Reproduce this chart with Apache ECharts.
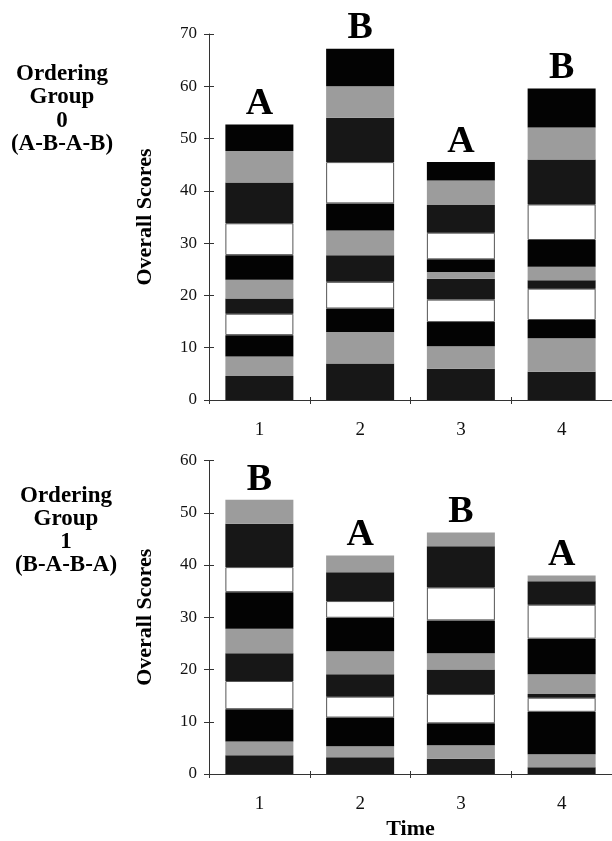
<!DOCTYPE html>
<html><head><meta charset="utf-8">
<script src="https://cdn.jsdelivr.net/npm/echarts@6/dist/echarts.min.js"></script>
<style>html,body{margin:0;padding:0;background:#fff}#c{width:612px;height:841px}</style>
</head><body><div id="c"></div>
<script>
// Categories
const times = ['1', '2', '3', '4'];
// Ordering Group 0 (A-B-A-B): stacked segment heights, bottom -> top
const group0_time1 = [4.6, 3.7, 4.1, 4.1, 2.9, 3.6, 4.7, 6.1, 7.8, 6.0, 5.1];
const group0_time2 = [7.0, 6.0, 4.5, 5.1, 5.1, 4.7, 5.2, 7.9, 8.5, 6.0, 7.2];
const group0_time3 = [6.0, 4.3, 4.6, 4.3, 4.0, 1.3, 2.4, 5.1, 5.3, 4.7, 3.5];
const group0_time4 = [5.4, 6.4, 3.5, 6.0, 1.6, 2.6, 5.1, 6.8, 8.6, 6.1, 7.5];
// Ordering Group 1 (B-A-B-A): stacked segment heights, bottom -> top
const group1_time1 = [3.6, 2.6, 6.2, 5.4, 5.3, 4.7, 7.0, 4.8, 8.3, 4.6];
const group1_time2 = [3.2, 2.1, 5.5, 4.0, 4.3, 4.4, 6.4, 3.2, 5.5, 3.2];
const group1_time3 = [2.9, 2.6, 4.2, 5.6, 4.7, 3.1, 6.3, 6.3, 7.9, 2.6];
const group1_time4 = [1.3, 2.5, 8.1, 2.7, 0.7, 3.8, 6.8, 6.5, 4.5, 1.1];
// Condition letters above bars
const group0_letters = ['A', 'B', 'A', 'B'];
const group1_letters = ['B', 'A', 'B', 'A'];
// Y axis ranges
const group0_yMax = 70;
const group1_yMax = 60;
const yStep = 10;

const SERIF = "'Liberation Serif','DejaVu Serif',serif";
const segStyles = [
  { color: '#171717' },                                   // dark stipple
  { color: '#9c9c9c' },                                   // light stipple
  { color: '#030303' },                                   // black
  { color: '#ffffff', borderColor: '#555', borderWidth: 1 } // white
];

function buildGroup(bars, letters, gi) {
  const n = bars[0].length;
  const out = [];
  for (let s = 0; s < n; s++) {
    out.push({
      type: 'bar', name: 'Group ' + gi + ' segment ' + (s + 1),
      xAxisIndex: gi * 2, yAxisIndex: gi * 2, stack: 'g' + gi,
      barWidth: 68, data: bars.map(b => b[s]),
      itemStyle: segStyles[s % 4], silent: true, animation: false
    });
  }
  const totals = bars.map(b => b.reduce((a, v) => a + v, 0));
  out.push({
    type: 'scatter', name: 'Group ' + gi + ' condition',
    xAxisIndex: gi * 2, yAxisIndex: gi * 2, symbolSize: 0,
    data: totals, animation: false, itemStyle: { opacity: 1, color: '#000' },
    label: { show: true, position: 'top', distance: 1,
      formatter: p => letters[p.dataIndex], textBorderWidth: 0, opacity: 1,
      fontSize: 38, fontWeight: 'bold', fontFamily: SERIF, color: '#000' }
  });
  return out;
}

function xAxes(gi, withName) {
  return [{
    type: 'category', gridIndex: gi, data: times, position: 'bottom',
    axisLine: { lineStyle: { color: '#333', width: 1 } },
    axisTick: { show: true, length: 4, lineStyle: { color: '#333' } },
    axisLabel: { fontSize: 19, fontFamily: SERIF, color: '#111', margin: 21 },
    name: withName ? 'Time' : '', nameLocation: 'middle', nameGap: 44,
    nameTextStyle: { fontSize: 22, fontWeight: 'bold', fontFamily: SERIF, color: '#000' }
  }, {
    type: 'category', gridIndex: gi, data: times, position: 'bottom',
    axisLine: { show: false }, axisLabel: { show: false },
    axisTick: { show: true, inside: true, length: 3, lineStyle: { color: '#333' } }
  }];
}
function yAxes(gi, max) {
  return [{
    type: 'value', gridIndex: gi, min: 0, max: max, interval: yStep, position: 'left',
    axisLine: { show: true, lineStyle: { color: '#333', width: 1 } },
    axisTick: { show: true, length: 5, lineStyle: { color: '#333' } },
    splitLine: { show: false },
    axisLabel: { fontSize: 17, fontFamily: SERIF, color: '#111', margin: 12 },
    name: 'Overall Scores', nameLocation: 'middle', nameRotate: 90, nameGap: 53,
    nameTextStyle: { fontSize: 22, fontWeight: 'bold', fontFamily: SERIF, color: '#000' }
  }, {
    type: 'value', gridIndex: gi, min: 0, max: max, interval: yStep, position: 'left', offset: 0,
    axisLine: { show: false }, axisLabel: { show: false }, splitLine: { show: false },
    axisTick: { show: true, inside: true, length: 5, lineStyle: { color: '#333' } }
  }];
}

const chart = echarts.init(document.getElementById('c'), null, { renderer: 'canvas' });
chart.setOption({
  animation: false,
  backgroundColor: '#fff',
  grid: [
    { left: 209, top: 34, width: 405, height: 366 },
    { left: 209, top: 460.5, width: 405, height: 315 }
  ],
  xAxis: [...xAxes(0, false), ...xAxes(1, true)],
  yAxis: [...yAxes(0, group0_yMax), ...yAxes(1, group1_yMax)],
  graphic: [
    { type: 'text', x: 62, y: 62, style: { text: 'Ordering\nGroup\n0\n(A-B-A-B)',
      textAlign: 'center', textVerticalAlign: 'top', fontSize: 23, fontWeight: 'bold',
      fontFamily: SERIF, lineHeight: 23.5, fill: '#000' } },
    { type: 'text', x: 66, y: 485, style: { text: 'Ordering\nGroup\n1\n(B-A-B-A)',
      textAlign: 'center', textVerticalAlign: 'top', fontSize: 23, fontWeight: 'bold',
      fontFamily: SERIF, lineHeight: 23, fill: '#000' } }
  ],
  series: [
    ...buildGroup([group0_time1, group0_time2, group0_time3, group0_time4], group0_letters, 0),
    ...buildGroup([group1_time1, group1_time2, group1_time3, group1_time4], group1_letters, 1)
  ]
});
</script></body></html>
